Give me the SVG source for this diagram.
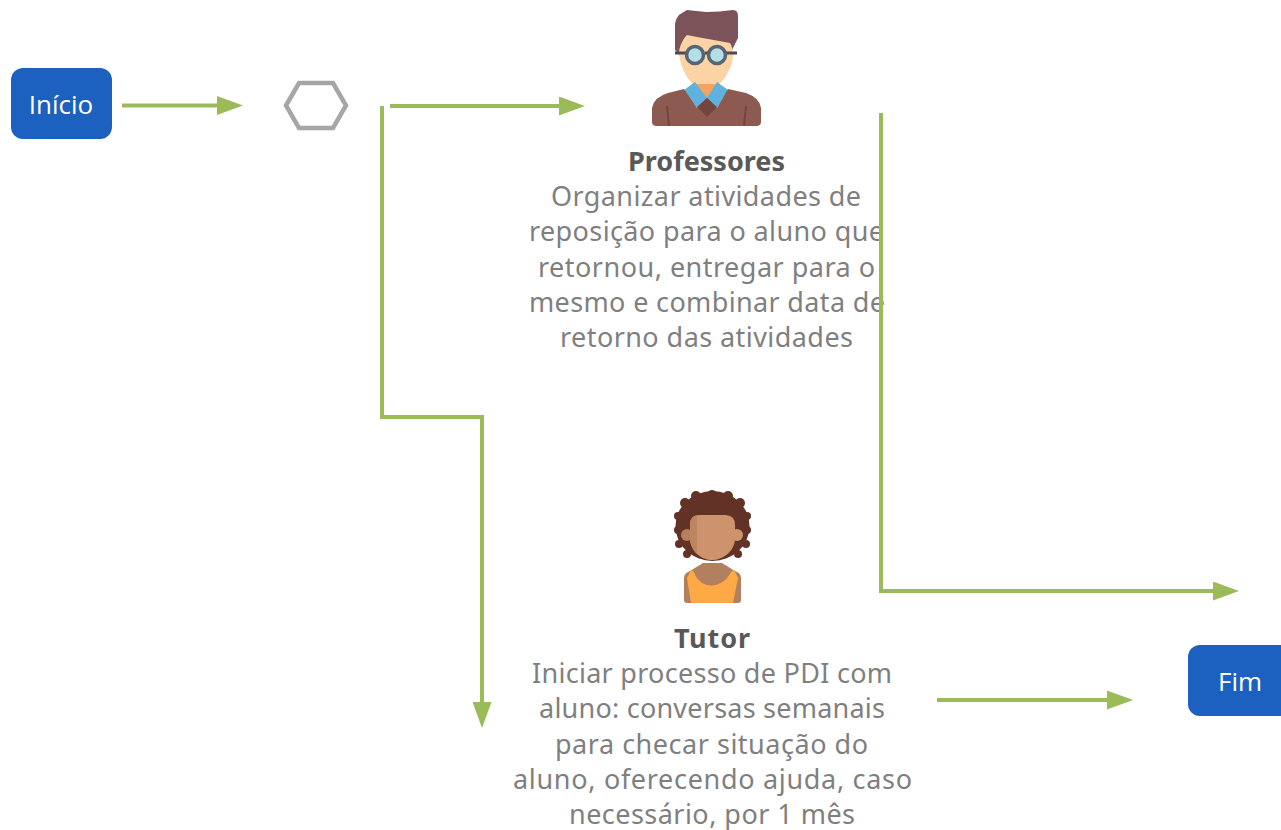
<svg xmlns="http://www.w3.org/2000/svg" width="1281" height="830" viewBox="0 0 1281 830">
<style>
.t{font-family:"Noto Sans",sans-serif;font-size:27px;fill:#7f7f7f}
.h{font-family:"Noto Sans",sans-serif;font-size:27px;font-weight:bold;fill:#595959}
.b{fill:#1c61bf}
.l{font-family:"Open Sans",sans-serif;font-size:26px;fill:#fff;text-anchor:middle}
.c{fill:none;stroke:#9bbb59;stroke-width:4;marker-end:url(#a)}
.hair{fill:#633227}
</style>
<defs><marker id="a" markerUnits="userSpaceOnUse" markerWidth="26" markerHeight="19" refX="0" refY="9.500" orient="auto"><path d="M0 0L26 9.500L0 19Z" fill="#9bbb59"/></marker></defs>
<rect width="1281" height="830" fill="#fff"/>
<g id="inicio"><rect class="b" x="11" y="68" width="101" height="71" rx="12"/><text class="l" x="61" y="114">Início</text></g>
<g id="hexagon"><path d="M286 105.500L299 83H333L346 105.500L333 128H299Z" fill="#fff" stroke="#a6a6a6" stroke-width="4.500"/></g>
<g id="professores">
<path d="M675 50V24Q676 16 682 13L687 10L706 12Q720 12 733 10Q738 10 738 16V38L732 50L728 60H684Z" fill="#7b5358"/>
<path d="M679 52C680 44 684 38 687 35C700 38 716 40 730 43C732 46 733 50 733 56C732 72 718 90 706 92C694 90 680 72 679 52Z" fill="#fcd3a5"/>
<path d="M695 84H717V100H695Z" fill="#f5a35c"/>
<path d="M684 90L695 82L707 98L697 108ZM728 90L717 82L707 98L717 108Z" fill="#5eb2dd"/>
<path d="M652 122V108Q654 97 668 93L684 89L697 108L707 98L717 108L728 89L746 93Q760 98 761 108V122Q761 126 756 126H657Q652 126 652 122Z" fill="#8c5a50"/>
<path d="M697 107L707 98L717 107L707 117Z" fill="#73453f"/>
<path d="M667 106L669 126M746 106L744 126" stroke="#73453f" stroke-width="2" fill="none"/>
<path d="M675 53H687M705 53H708M725 53H737" stroke="#4f4a50" stroke-width="3"/>
<circle cx="695" cy="55" r="8.500" fill="#b5dfe8" stroke="#566573" stroke-width="3.500"/>
<circle cx="717" cy="55" r="8.500" fill="#b5dfe8" stroke="#566573" stroke-width="3.500"/>
<text class="h" x="628" y="171" textLength="157">Professores</text>
<text class="t"><tspan x="551" y="206" textLength="310">Organizar atividades de</tspan><tspan x="529" y="241" textLength="355">reposição para o aluno que</tspan><tspan x="538" y="277" textLength="337">retornou, entregar para o</tspan><tspan x="529" y="312" textLength="356">mesmo e combinar data de</tspan><tspan x="560" y="347" textLength="293">retorno das atividades</tspan></text>
</g>
<g id="tutor">
<g class="hair">
<ellipse cx="712.500" cy="526" rx="37" ry="35"/>
<circle cx="696" cy="496" r="5"/><circle cx="712" cy="495" r="5"/><circle cx="728" cy="496" r="5"/>
<circle cx="685" cy="503" r="5"/><circle cx="740" cy="503" r="5"/>
<circle cx="678" cy="516" r="4"/><circle cx="747" cy="516" r="4"/>
<circle cx="678" cy="530" r="4"/><circle cx="747" cy="530" r="4"/>
<circle cx="679" cy="544" r="4"/><circle cx="746" cy="544" r="4"/>
<circle cx="687" cy="554" r="4"/><circle cx="738" cy="554" r="4"/>
</g>
<path d="M684 603V578Q684 573 690 571L703 563H722L735 571Q741 573 741 578V600Q741 603 738 603H687Q684 603 684 600Z" fill="#b1815f"/>
<path d="M687 578L691 570L694 572C700 590 722 590 731 572L734 570L738 578L733 603H691Z" fill="#fea945"/>
<circle cx="687" cy="535" r="6" fill="#b47f5c"/><circle cx="737" cy="535" r="6" fill="#cd936d"/>
<path d="M690 523Q691 515 700 515H725Q735 515 735 525V538C735 552 722 560 712 560C702 560 690 552 690 538Z" fill="#cd936d"/>
<path d="M690 523Q691 516 697 515V554C693 550 690 544 690 538Z" fill="#bc8560"/>
<text class="h" x="674" y="648" textLength="76">Tutor</text>
<text class="t"><tspan x="532" y="683" textLength="360">Iniciar processo de PDI com</tspan><tspan x="539" y="718" textLength="346">aluno: conversas semanais</tspan><tspan x="555" y="754" textLength="313">para checar situação do</tspan><tspan x="513" y="789" textLength="399">aluno, oferecendo ajuda, caso</tspan><tspan x="569" y="824" textLength="286">necessário, por 1 mês</tspan></text>
</g>
<g id="fim"><rect class="b" x="1188" y="645" width="105" height="71" rx="12"/><text class="l" x="1240" y="691">Fim</text></g>
<g id="connectors">
<path class="c" d="M122 105.500H217"/>
<path class="c" d="M390 106H559"/>
<path class="c" d="M382 106V417H482V702"/>
<path class="c" d="M881 113V591H1213"/>
<path class="c" d="M937 700H1107"/>
</g>
</svg>
